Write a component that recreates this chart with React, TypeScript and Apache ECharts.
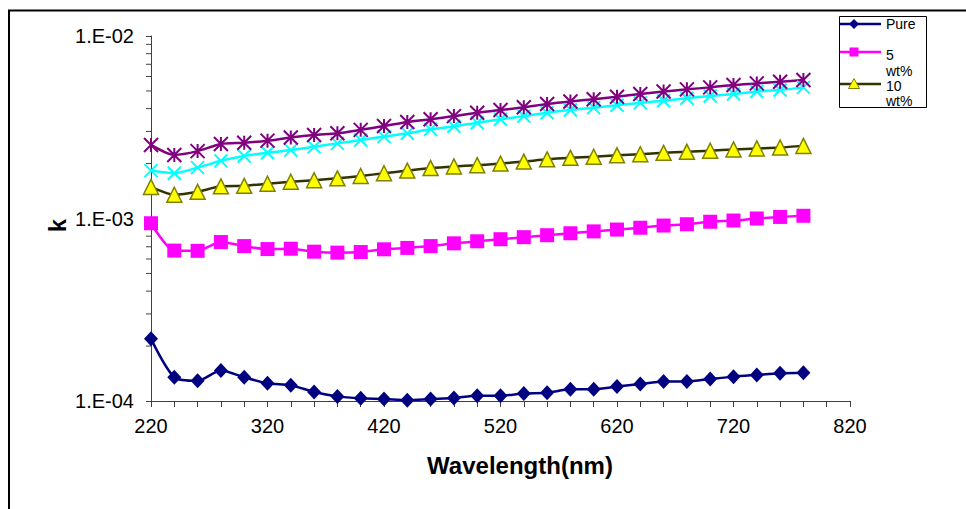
import React, { useEffect, useRef } from "react";
import * as echarts from "echarts";

const wavelength = [220, 240, 260, 280, 300, 320, 340, 360, 380, 400, 420, 440, 460, 480, 500, 520, 540, 560, 580, 600, 620, 640, 660, 680, 700, 720, 740, 760, 780];

const pure = [2.19e-4, 1.35e-4, 1.29e-4, 1.47e-4, 1.35e-4, 1.25e-4, 1.22e-4, 1.12e-4, 1.06e-4, 1.035e-4, 1.026e-4, 1.01e-4, 1.026e-4, 1.04e-4, 1.07e-4, 1.07e-4, 1.1e-4, 1.11e-4, 1.16e-4, 1.16e-4, 1.2e-4, 1.24e-4, 1.28e-4, 1.28e-4, 1.32e-4, 1.36e-4, 1.39e-4, 1.42e-4, 1.43e-4];
const wt5 = [9.42e-4, 6.67e-4, 6.65e-4, 7.43e-4, 7.06e-4, 6.8e-4, 6.83e-4, 6.58e-4, 6.5e-4, 6.55e-4, 6.78e-4, 6.9e-4, 7.06e-4, 7.31e-4, 7.5e-4, 7.7e-4, 7.9e-4, 8.1e-4, 8.3e-4, 8.5e-4, 8.7e-4, 8.9e-4, 9.15e-4, 9.3e-4, 9.6e-4, 9.75e-4, 1.0e-3, 1.02e-3, 1.035e-3];
const wt10 = [1.49e-3, 1.35e-3, 1.4e-3, 1.5e-3, 1.51e-3, 1.55e-3, 1.59e-3, 1.62e-3, 1.66e-3, 1.71e-3, 1.77e-3, 1.83e-3, 1.89e-3, 1.93e-3, 1.96e-3, 2.0e-3, 2.05e-3, 2.11e-3, 2.15e-3, 2.18e-3, 2.22e-3, 2.25e-3, 2.29e-3, 2.32e-3, 2.35e-3, 2.39e-3, 2.42e-3, 2.45e-3, 2.5e-3];
const cyanSeries = [1.83e-3, 1.77e-3, 1.9e-3, 2.07e-3, 2.2e-3, 2.29e-3, 2.37e-3, 2.47e-3, 2.58e-3, 2.69e-3, 2.81e-3, 2.93e-3, 3.08e-3, 3.2e-3, 3.35e-3, 3.5e-3, 3.64e-3, 3.8e-3, 3.93e-3, 4.05e-3, 4.17e-3, 4.3e-3, 4.42e-3, 4.56e-3, 4.69e-3, 4.81e-3, 4.96e-3, 5.06e-3, 5.23e-3];
const purpleSeries = [2.53e-3, 2.23e-3, 2.34e-3, 2.56e-3, 2.6e-3, 2.67e-3, 2.78e-3, 2.87e-3, 2.93e-3, 3.06e-3, 3.21e-3, 3.38e-3, 3.5e-3, 3.64e-3, 3.8e-3, 3.93e-3, 4.07e-3, 4.24e-3, 4.38e-3, 4.5e-3, 4.65e-3, 4.81e-3, 4.96e-3, 5.1e-3, 5.23e-3, 5.39e-3, 5.5e-3, 5.62e-3, 5.74e-3];

const yMinorTicks = [2e-4, 3e-4, 4e-4, 5e-4, 6e-4, 7e-4, 8e-4, 9e-4, 2e-3, 3e-3, 4e-3, 5e-3, 6e-3, 7e-3, 8e-3, 9e-3];
const xLabelStart = 220;
const xLabelStep = 100;

const legendLabels = [["Pure"], ["5", "wt%"], ["10", "wt%"]];
const xTitle = "Wavelength(nm)";
const yTitle = "k";

const FONT = "'Liberation Sans', Arial, Helvetica, sans-serif";
const AXIS_COLOR = "#404040";

function pairs(ys: number[]) {
  return wavelength.map((x, i) => [x, ys[i]]);
}

export default function App() {
  const ref = useRef<HTMLDivElement>(null);

  useEffect(() => {
    if (!ref.current) return;
    const chart = echarts.init(ref.current, null, { renderer: "svg" });

    const xPath = "path://M0,0L10,10M10,0L0,10";
    const starPath = "path://M0,0L10,10M10,0L0,10M5,0L5,10";

    const legendText = (text: string, y: number) => ({
      type: "text",
      x: 886,
      y,
      style: { text, font: `14px ${FONT}`, fill: "#000", verticalAlign: "middle" },
    });

    const option: any = {
      animation: false,
      backgroundColor: "#ffffff",
      grid: { left: 151, right: 116, top: 36, bottom: 108, containLabel: false },
      xAxis: {
        type: "value",
        min: 220,
        max: 820,
        interval: 20,
        axisLine: { show: true, lineStyle: { color: AXIS_COLOR, width: 1 } },
        axisTick: { show: true, length: 6, lineStyle: { color: AXIS_COLOR } },
        axisLabel: {
          color: "#000",
          fontSize: 20,
          fontFamily: FONT,
          margin: 15,
          formatter: (v: number) =>
            Math.round(v - xLabelStart) % xLabelStep === 0 ? String(Math.round(v)) : "",
        },
        splitLine: { show: false },
      },
      yAxis: {
        type: "log",
        logBase: 10,
        min: 1e-4,
        max: 1e-2,
        axisLine: { show: true, lineStyle: { color: AXIS_COLOR, width: 1 } },
        axisTick: { show: true, length: 5, lineStyle: { color: AXIS_COLOR } },
        axisLabel: {
          color: "#000",
          fontSize: 20,
          fontFamily: FONT,
          margin: 17,
          formatter: (v: number) => {
            const e = Math.round(Math.log10(v));
            const s = String(Math.abs(e)).padStart(2, "0");
            return "1.E" + (e < 0 ? "-" : "+") + s;
          },
        },
        splitLine: { show: false },
      },
      series: [
        {
          type: "custom",
          name: "minorTicks",
          silent: true,
          clip: false,
          data: yMinorTicks.map((v) => [220, v]),
          encode: { x: 0, y: 1 },
          renderItem: (params: any, api: any) => {
            const p = api.coord([api.value(0), api.value(1)]);
            return {
              type: "line",
              shape: { x1: p[0] - 5, y1: p[1], x2: p[0], y2: p[1] },
              style: { stroke: AXIS_COLOR, lineWidth: 1 },
            };
          },
          z: 1,
        },
        {
          type: "line",
          name: "Pure",
          data: pairs(pure),
          smooth: 0.25,
          symbol: "diamond",
          symbolSize: [14, 15],
          lineStyle: { color: "#000080", width: 2.5 },
          itemStyle: { color: "#000080" },
          z: 3,
        },
        {
          type: "line",
          name: "5 wt%",
          data: pairs(wt5),
          smooth: 0.25,
          symbol: "rect",
          symbolSize: 14,
          lineStyle: { color: "#FF00FF", width: 2.5 },
          itemStyle: { color: "#FF00FF" },
          z: 3,
        },
        {
          type: "line",
          name: "10 wt%",
          data: pairs(wt10),
          smooth: 0.25,
          symbol: "triangle",
          symbolSize: [15, 15],
          lineStyle: { color: "#333300", width: 2.5 },
          itemStyle: { color: "#FFFF00", borderColor: "#808000", borderWidth: 1.5 },
          z: 3,
        },
        {
          type: "line",
          name: "15 wt%",
          data: pairs(cyanSeries),
          smooth: 0.25,
          symbol: xPath,
          symbolSize: 13,
          lineStyle: { color: "#00FFFF", width: 2.5 },
          itemStyle: { color: "#00FFFF", borderColor: "#00FFFF", borderWidth: 2 },
          z: 3,
        },
        {
          type: "line",
          name: "20 wt%",
          data: pairs(purpleSeries),
          smooth: 0.25,
          symbol: starPath,
          symbolSize: 14,
          lineStyle: { color: "#800080", width: 2.5 },
          itemStyle: { color: "#800080", borderColor: "#800080", borderWidth: 2 },
          z: 3,
        },
      ],
      graphic: [
        {
          type: "rect",
          silent: true,
          shape: { x: 9, y: 10.5, width: 1200, height: 1200 },
          style: { fill: "none", stroke: "#000", lineWidth: 2 },
          z: 0,
        },
        {
          type: "text",
          x: 520,
          y: 465,
          style: {
            text: xTitle,
            font: `bold 24px ${FONT}`,
            fill: "#000",
            align: "center",
            verticalAlign: "middle",
          },
        },
        {
          type: "text",
          x: 57.5,
          y: 225.5,
          rotation: Math.PI / 2,
          style: {
            text: yTitle,
            font: `bold 24px ${FONT}`,
            fill: "#000",
            align: "center",
            verticalAlign: "middle",
          },
        },
        {
          type: "group",
          z: 10,
          children: [
            {
              type: "rect",
              shape: { x: 839.5, y: 16.5, width: 87, height: 91 },
              style: { fill: "#fff", stroke: "#000", lineWidth: 1 },
            },
            { type: "line", shape: { x1: 840, y1: 24, x2: 881, y2: 24 }, style: { stroke: "#000080", lineWidth: 2.5 } },
            {
              type: "polygon",
              shape: { points: [[854, 19], [859, 24], [854, 29], [849, 24]] },
              style: { fill: "#000080" },
            },
            { type: "line", shape: { x1: 840, y1: 52, x2: 881, y2: 52 }, style: { stroke: "#FF00FF", lineWidth: 2.5 } },
            { type: "rect", shape: { x: 849.5, y: 47.5, width: 9, height: 9 }, style: { fill: "#FF00FF" } },
            { type: "line", shape: { x1: 840, y1: 84, x2: 881, y2: 84 }, style: { stroke: "#333300", lineWidth: 2.5 } },
            {
              type: "polygon",
              shape: { points: [[854, 78.5], [859.5, 88.5], [848.5, 88.5]] },
              style: { fill: "#FFFF00", stroke: "#808000", lineWidth: 1 },
            },
            legendText(legendLabels[0][0], 24),
            legendText(legendLabels[1][0], 55),
            legendText(legendLabels[1][1], 70.5),
            legendText(legendLabels[2][0], 86),
            legendText(legendLabels[2][1], 101),
          ],
        },
      ],
    };

    chart.setOption(option);
    return () => chart.dispose();
  }, []);

  return (
    <div
      ref={ref}
      style={{ position: "absolute", left: 0, top: 0, width: 966, height: 509, background: "#fff" }}
    />
  );
}
